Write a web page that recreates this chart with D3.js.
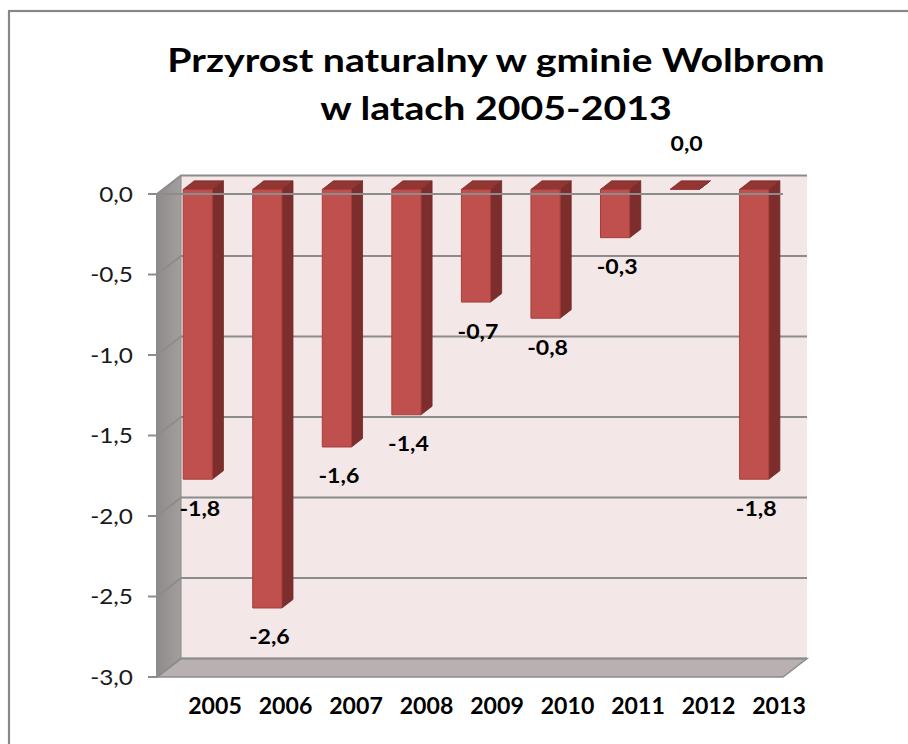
<!DOCTYPE html>
<html>
<head>
<meta charset="utf-8">
<script src="https://cdn.jsdelivr.net/npm/d3@7"></script>
<style>
  html, body { margin: 0; padding: 0; background: #fff; }
  svg { display: block; font-family: Lato, "Open Sans", sans-serif; }
</style>
</head>
<body>
<div id="chart"></div>
<script>
(function() {
  const width = 908, height = 744;

  // data
  const years = ["2005", "2006", "2007", "2008", "2009", "2010", "2011", "2012", "2013"];
  const values = [-1.8, -2.6, -1.6, -1.4, -0.7, -0.8, -0.3, 0.0, -1.8];
  const yTicks = [0, -0.5, -1.0, -1.5, -2.0, -2.5, -3.0];
  const titleLines = ["Przyrost naturalny w gminie Wolbrom", "w latach 2005-2013"];

  const fmt = v => d3.format(".1f")(v).replace(".", ",").replace("−", "-");

  // front plane of the 3D box, and the depth offset to the back wall
  const left = 157, right = 783, top = 194, bottom = 677;
  const depthX = 24, depthY = -18.5;
  const tFront = 0.25, tBack = 0.71;

  const x = d3.scaleBand().domain(years).range([left, right]).paddingInner(0).paddingOuter(0);
  // category labels sit a bit right of the bars (3D offset)
  const xLab = d3.scalePoint().domain(years).range([215, 779]);
  const y = d3.scaleLinear().domain([0, -3]).range([top, bottom]);
  const barW = x.bandwidth() * 0.42;

  const svg = d3.select("#chart").append("svg")
    .attr("width", width)
    .attr("height", height);

  const defs = svg.append("defs");
  const sideGrad = defs.append("linearGradient").attr("id", "sideGrad")
    .attr("x1", 0).attr("x2", 1).attr("y1", 0).attr("y2", 0);
  sideGrad.append("stop").attr("offset", "0%").attr("stop-color", "#8f8b8b");
  sideGrad.append("stop").attr("offset", "100%").attr("stop-color", "#a39f9f");

  // text placed with a slight horizontal stretch (the original font is wider)
  const stretched = (sel, sx) => sel.attr("transform", function() {
    const tx = +this.getAttribute("data-x"), ty = +this.getAttribute("data-y");
    return `translate(${tx},${ty}) scale(${sx},1)`;
  });

  // chart border (cropped on the right and bottom)
  svg.append("rect")
    .attr("x", 9).attr("y", 11)
    .attr("width", 920).attr("height", 760)
    .attr("fill", "none")
    .attr("stroke", "#878787")
    .attr("stroke-width", 2.2);

  // title
  svg.append("g")
    .selectAll("text")
    .data(titleLines)
    .join("text")
    .attr("data-x", 496)
    .attr("data-y", (d, i) => 72 + i * 48)
    .attr("text-anchor", "middle")
    .attr("font-weight", "bold")
    .attr("font-size", 33)
    .attr("fill", "#000")
    .text(d => d)
    .call(stretched, 1.19);

  const pt = (px, py, t) => [px + depthX * t, py + depthY * t];
  const poly = pts => "M" + pts.map(p => p.join(",")).join("L") + "Z";

  // back wall
  svg.append("path")
    .attr("d", poly([pt(left, top, 1), pt(right, top, 1), pt(right, bottom, 1), pt(left, bottom, 1)]))
    .attr("fill", "#f3e7e7");

  // side wall
  svg.append("path")
    .attr("d", poly([[left, top], pt(left, top, 1), pt(left, bottom, 1), [left, bottom]]))
    .attr("fill", "url(#sideGrad)")
    .attr("stroke", "#8a8787")
    .attr("stroke-width", 1);

  // floor
  svg.append("path")
    .attr("d", poly([[left, bottom], pt(left, bottom, 1), pt(right, bottom, 1), [right, bottom]]))
    .attr("fill", "#b9b1b1")
    .attr("stroke", "#8f8b8b")
    .attr("stroke-width", 1.5);

  // gridlines on back wall + diagonal on side wall
  const grid = svg.append("g")
    .attr("stroke", "#8c8c8c")
    .attr("stroke-width", 2)
    .attr("fill", "none");
  grid.selectAll("path")
    .data(yTicks)
    .join("path")
    .attr("d", d => "M" + [left, y(d)] + "L" + pt(left, y(d), 1) + "L" + pt(right, y(d), 1));

  // vertical axis line + ticks
  grid.append("line")
    .attr("x1", left).attr("x2", left)
    .attr("y1", top).attr("y2", bottom);
  grid.selectAll("line.tick")
    .data(yTicks)
    .join("line")
    .attr("class", "tick")
    .attr("x1", left - 9).attr("x2", left)
    .attr("y1", d => y(d)).attr("y2", d => y(d));

  // y tick labels
  svg.append("g")
    .selectAll("text")
    .data(yTicks)
    .join("text")
    .attr("data-x", 133)
    .attr("data-y", d => y(d) + 7.5)
    .attr("text-anchor", "end")
    .attr("font-size", 21)
    .attr("fill", "#1a1a1a")
    .text(d => fmt(d))
    .call(stretched, 1.16);

  // bars
  const bars = svg.append("g")
    .selectAll("g")
    .data(years.map((yr, i) => ({ year: yr, value: values[i] })))
    .join("g");

  const bx0 = d => x(d.year) + (x.bandwidth() - barW) / 2;
  const bx1 = d => bx0(d) + barW;

  // right side face
  bars.append("path")
    .attr("d", d => poly([pt(bx1(d), y(0), tFront), pt(bx1(d), y(0), tBack),
                          pt(bx1(d), y(d.value), tBack), pt(bx1(d), y(d.value), tFront)]))
    .attr("fill", "#7d2e2c")
    .attr("stroke", "#6e2725")
    .attr("stroke-width", 0.8);

  // top face
  bars.append("path")
    .attr("d", d => poly([pt(bx0(d), y(0), tFront), pt(bx0(d), y(0), tBack),
                          pt(bx1(d), y(0), tBack), pt(bx1(d), y(0), tFront)]))
    .attr("fill", "#923634")
    .attr("stroke", "#7a2c2a")
    .attr("stroke-width", 0.8);

  // front face
  bars.append("path")
    .attr("d", d => poly([pt(bx0(d), y(0), tFront), pt(bx1(d), y(0), tFront),
                          pt(bx1(d), y(d.value), tFront), pt(bx0(d), y(d.value), tFront)]))
    .attr("fill", "#c0504d")
    .attr("stroke", "#a53e3b")
    .attr("stroke-width", 1);

  // category axis line at zero, drawn in the front plane
  svg.append("line")
    .attr("x1", left).attr("x2", right)
    .attr("y1", y(0)).attr("y2", y(0))
    .attr("stroke", "#8c8c8c")
    .attr("stroke-width", 2);

  // data labels
  bars.append("text")
    .attr("data-x", d => (bx0(d) + bx1(d)) / 2 + depthX * tFront + 2)
    .attr("data-y", d => d.value < 0
      ? y(d.value) + depthY * tFront + 29 + 7.5
      : y(0) - 51 + 7.5)
    .attr("text-anchor", "middle")
    .attr("font-size", 21)
    .attr("font-weight", "bold")
    .attr("fill", "#000")
    .text(d => fmt(d.value))
    .call(stretched, 1.1);

  // x labels
  svg.append("g")
    .selectAll("text")
    .data(years)
    .join("text")
    .attr("data-x", d => xLab(d))
    .attr("data-y", 714)
    .attr("text-anchor", "middle")
    .attr("font-size", 22)
    .attr("font-weight", "bold")
    .attr("fill", "#000")
    .text(d => d)
    .call(stretched, 1.05);
})();
</script>
</body>
</html>
